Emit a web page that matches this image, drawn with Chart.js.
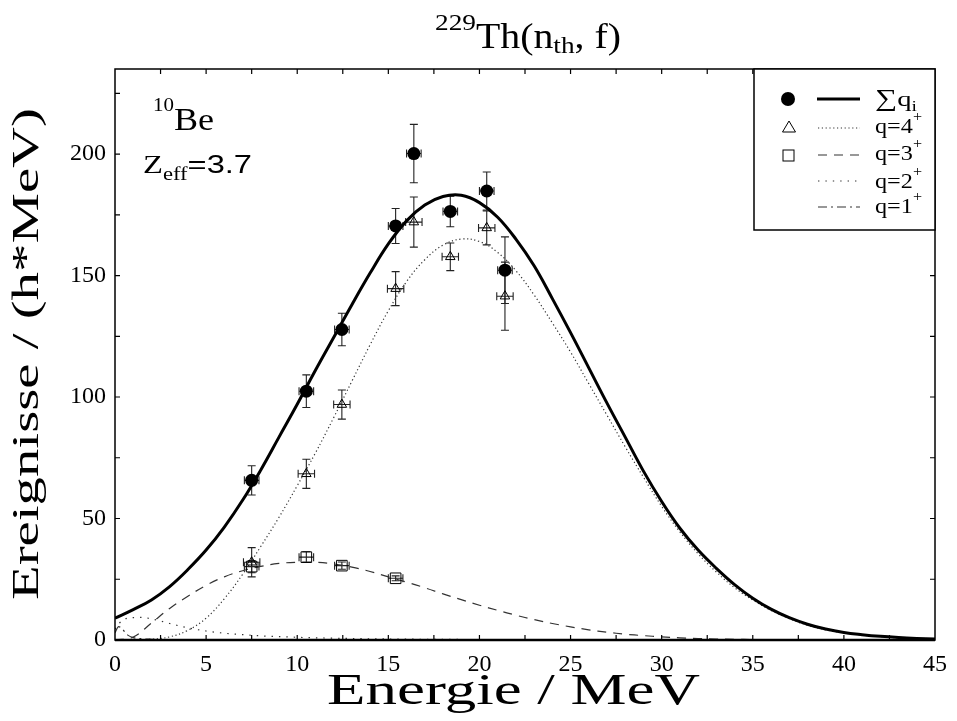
<!DOCTYPE html>
<html><head><meta charset="utf-8">
<script src="https://cdn.jsdelivr.net/npm/chart.js@4.4.1/dist/chart.umd.min.js"></script>
<style>
html,body{margin:0;padding:0;background:#fff;}
.pre{position:absolute;left:-9999px;top:0;}
.pre1{font-family:"Liberation Serif";}
.pre2{font-family:"Liberation Sans";}
</style>
</head><body>
<span class="pre pre1">Energie 0123456789 Th</span><span class="pre pre2">Z=3.7</span>
<canvas id="c" width="957" height="721"></canvas>
<script>
// ---- curve data ----
const energyGrid = [0,1,2,3,4,5,6,7,8,9,10,11,12,13,14,15,16,17,18,19,20,21,22,23,24,25,26,27,28,29,30,31,32,33,34,35,36,37,38,39,40,41,42,43,44,45];
const sumFit = [9,12.5,16.5,22,29,37,46.5,57.5,70,83.5,97,111,124.5,138,151,163,172.5,179,182.5,183,180,174,165,154,140.5,126.5,112,97.5,83.5,69.5,57,46,37,29.5,22.8,17.2,12.7,9.2,6.5,4.5,3.1,2.2,1.5,1,0.65,0.4];
const q4Fit = [0,0,0.3,1.3,4,9,17,27,38.5,50.5,63.5,77,91.5,106.5,121.5,135.5,147.5,156.5,162.5,165,164,159.5,152,142,130.5,118.5,105.5,92.5,79.5,67,55,44.5,35.5,28,21.5,16.5,12.2,8.8,6.1,4.2,2.9,2,1.4,0.9,0.6,0.4];
const q3Fit = [0,1.2,7,13,18,22.5,26,28.5,30.3,31.5,32,32,31.3,30,28.2,26,23.8,21.5,19,16.6,14.3,12.2,10.2,8.4,6.8,5.4,4.2,3.2,2.4,1.8,1.3,0.9,0.6,0.4,0.3,0.2,0.15,0.1,0.05,0,0,0,0,0,0,0];
const q2Energy = [0,0.25,0.5,1,1.5,2,2.5,3,4,5,6,7,8,9,10,12,14,16,18,20,25,30,35,45];
const q2Fit = [4.5,7,8.5,9.2,9.3,8.7,7.8,6.8,5,3.7,2.8,2.2,1.7,1.4,1.1,0.75,0.5,0.35,0.25,0.18,0.08,0.03,0.01,0];
const q1Energy = [0,0.2,0.4,0.7,1,1.5,2,3,4.5,8];
const q1Fit = [3,5.5,4.5,2,1,0.5,0.3,0.1,0,0];

// ---- measured points ----
const dataEnergy = [7.5,10.5,12.45,15.4,16.4,18.4,20.4,21.4];
const sumPts = [65.7,102.4,127.8,170.4,200.2,176.4,184.8,152.2];
const sumErr = [6,6.7,6.7,7.2,12,6.3,7.8,13.7];
const sumXErr = [0.4,0.4,0.4,0.4,0.4,0.4,0.4,0.4];
const q4Pts = [32,68.4,96.9,144.6,172,157.7,169.6,141.5];
const q4Err = [6,6,6,7,10.3,5.7,7,14];
const q4XErr = [0.45,0.45,0.45,0.45,0.45,0.45,0.45,0.45];
const q3Energy = [7.5,10.5,12.45,15.4];
const q3Pts = [30.2,34.1,30.6,25.4];
const q3Err = [2.5,2.2,1.5,1];
const q3XErr = [0.4,0.4,0.4,0.4];

const SERIF = '"Liberation Serif", "Times New Roman", Times, serif';
const SANS = '"Liberation Sans", Arial, Helvetica, sans-serif';
const DASH_Q4 = [1.2,2.6], DASH_Q3 = [9,7], DASH_Q2 = [1.4,6], DASH_Q1 = [9,4,2,4];

function pts(xs, ys){ return xs.map((x,i)=>({x:x, y:ys[i]})); }

const errorSets = [
  {E: dataEnergy, V: sumPts, dy: sumErr, dx: sumXErr},
  {E: dataEnergy, V: q4Pts, dy: q4Err, dx: q4XErr},
  {E: q3Energy, V: q3Pts, dy: q3Err, dx: q3XErr}
];

function drawRich(ctx, parts, x, y, o){
  o = o || {};
  ctx.save();
  let W = 0;
  parts.forEach(p=>{ ctx.font = p.size+'px '+(p.f||SERIF); p.w = ctx.measureText(p.t).width; W += p.w; });
  const s = o.width ? o.width / W : 1;
  ctx.translate(x, y);
  if (o.rotate) ctx.rotate(o.rotate);
  ctx.scale(s, 1);
  ctx.fillStyle = '#000';
  ctx.textBaseline = 'alphabetic';
  ctx.textAlign = 'left';
  let cx = 0;
  parts.forEach(p=>{ ctx.font = p.size+'px '+(p.f||SERIF); ctx.fillText(p.t, cx, p.dy||0); cx += p.w; });
  ctx.restore();
}

const decor = {
  id: 'decor',
  beforeDatasetsDraw(chart){
    const ctx = chart.ctx, xs = chart.scales.x, ys = chart.scales.y;
    ctx.save();
    ctx.strokeStyle = '#222'; ctx.lineWidth = 1.1;
    errorSets.forEach(set=>{
      set.E.forEach((e,i)=>{
        const px = xs.getPixelForValue(e), py = ys.getPixelForValue(set.V[i]);
        const y1 = ys.getPixelForValue(set.V[i]+set.dy[i]), y2 = ys.getPixelForValue(set.V[i]-set.dy[i]);
        const x1 = xs.getPixelForValue(e-set.dx[i]), x2 = xs.getPixelForValue(e+set.dx[i]);
        ctx.beginPath();
        ctx.moveTo(px,y1); ctx.lineTo(px,y2);
        ctx.moveTo(px-4,y1); ctx.lineTo(px+4,y1);
        ctx.moveTo(px-4,y2); ctx.lineTo(px+4,y2);
        ctx.moveTo(x1,py); ctx.lineTo(x2,py);
        ctx.moveTo(x1,py-4); ctx.lineTo(x1,py+4);
        ctx.moveTo(x2,py-4); ctx.lineTo(x2,py+4);
        ctx.stroke();
      });
    });
    ctx.restore();
  },
  afterDraw(chart){
    const ctx = chart.ctx, a = chart.chartArea, xs = chart.scales.x, ys = chart.scales.y;
    ctx.save();
    ctx.strokeStyle = '#000';
    ctx.lineWidth = 1.5;
    ctx.strokeRect(a.left, a.top, a.right-a.left, a.bottom-a.top);
    ctx.lineWidth = 2.5;
    ctx.beginPath(); ctx.moveTo(a.left, a.bottom); ctx.lineTo(a.right, a.bottom); ctx.stroke();
    ctx.lineWidth = 1.2;
    ctx.beginPath();
    for (let v = 2.5; v < 45; v += 2.5){
      const p = xs.getPixelForValue(v);
      ctx.moveTo(p, a.bottom); ctx.lineTo(p, a.bottom-5);
      ctx.moveTo(p, a.top); ctx.lineTo(p, a.top+5);
    }
    for (let v = 25; v < 235; v += 25){
      const p = ys.getPixelForValue(v);
      ctx.moveTo(a.left, p); ctx.lineTo(a.left+5, p);
      ctx.moveTo(a.right, p); ctx.lineTo(a.right-5, p);
    }
    ctx.stroke();
    const L = 754, T = a.top, R = a.right, B = 230;
    ctx.fillStyle = '#fff';
    ctx.fillRect(L, T, R-L, B-T);
    ctx.strokeStyle = '#000'; ctx.lineWidth = 1.5;
    ctx.strokeRect(L, T, R-L, B-T);
    ctx.fillStyle = '#000';
    ctx.beginPath(); ctx.arc(788, 99, 7, 0, Math.PI*2); ctx.fill();
    ctx.lineWidth = 3; ctx.setLineDash([]);
    ctx.beginPath(); ctx.moveTo(817, 99); ctx.lineTo(860, 99); ctx.stroke();
    ctx.lineWidth = 1;
    ctx.beginPath(); ctx.moveTo(789, 121); ctx.lineTo(795.5, 132); ctx.lineTo(782.5, 132); ctx.closePath(); ctx.stroke();
    ctx.strokeRect(783, 150, 11, 11);
    const rows = [[128, DASH_Q4],[155, DASH_Q3],[181, DASH_Q2],[207, DASH_Q1]];
    ctx.lineWidth = 1.1; ctx.strokeStyle = '#333';
    rows.forEach(r=>{ ctx.setLineDash(r[1]); ctx.beginPath(); ctx.moveTo(818, r[0]); ctx.lineTo(860, r[0]); ctx.stroke(); });
    ctx.setLineDash([]);
    ctx.restore();
    drawRich(ctx, [{t:'\u2211', size:24},{t:'q', size:22},{t:'i', size:15, dy:5}], 875, 106, {width:42});
    const lab = [['4',133],['3',160],['2',188],['1',213]];
    lab.forEach(l=> drawRich(ctx, [{t:'q='+l[0], size:21},{t:'+', size:14, dy:-12}], 875, l[1], {width:47}));
    drawRich(ctx, [{t:'229', size:24, dy:-18},{t:'Th(n', size:35},{t:'th', size:24, dy:5},{t:', f)', size:35}], 435, 48, {width:186});
    drawRich(ctx, [{t:'10', size:18, dy:-19},{t:'Be', size:31}], 153, 130, {width:61});
    drawRich(ctx, [{t:'Z', size:26},{t:'eff', size:18, dy:7},{t:'=3.7', size:26, f:SANS}], 143, 173, {width:109});
    drawRich(ctx, [{t:'Energie / MeV', size:45}], 327, 704, {width:373});
    drawRich(ctx, [{t:'Ereignisse / (h*MeV)', size:38}], 38, 600, {width:492, rotate:-Math.PI/2});
  }
};

function makeChart(){
  const tickFont = {family: SERIF, size: 24};
  new Chart(document.getElementById('c'), {
    type: 'scatter',
    data: {
      datasets: [
        {label:'\u2211q_i data', data: pts(dataEnergy, sumPts), pointStyle:'circle', pointRadius:6.5, backgroundColor:'#000', borderColor:'#000', borderWidth:0, showLine:false},
        {label:'q=4+ data', data: pts(dataEnergy, q4Pts), pointStyle:'triangle', pointRadius:5.5, backgroundColor:'rgba(0,0,0,0)', borderColor:'#000', borderWidth:1, showLine:false},
        {label:'q=3+ data', data: pts(q3Energy, q3Pts), pointStyle:'rect', pointRadius:7.5, backgroundColor:'rgba(0,0,0,0)', borderColor:'#000', borderWidth:1, showLine:false},
        {label:'\u2211q_i', data: pts(energyGrid, sumFit), showLine:true, pointRadius:0, borderColor:'#000', borderWidth:3, tension:0.4},
        {label:'q=4+', data: pts(energyGrid, q4Fit), showLine:true, pointRadius:0, borderColor:'#333', borderWidth:1.2, borderDash:DASH_Q4, tension:0.4},
        {label:'q=3+', data: pts(energyGrid, q3Fit), showLine:true, pointRadius:0, borderColor:'#333', borderWidth:1.2, borderDash:DASH_Q3, tension:0.4},
        {label:'q=2+', data: pts(q2Energy, q2Fit), showLine:true, pointRadius:0, borderColor:'#333', borderWidth:1.2, borderDash:DASH_Q2, cubicInterpolationMode:'monotone'},
        {label:'q=1+', data: pts(q1Energy, q1Fit), showLine:true, pointRadius:0, borderColor:'#333', borderWidth:1.2, borderDash:DASH_Q1, cubicInterpolationMode:'monotone'}
      ]
    },
    options: {
      responsive: false, animation: false, devicePixelRatio: 1,
      layout: {padding: {left: 0, right: 17, top: 69, bottom: 0}},
      plugins: {legend: {display:false}, tooltip: {enabled:false}, title: {display:false}},
      scales: {
        x: {type:'linear', min:0, max:45, afterFit: s => { s.height = 81; },
            grid:{display:false, drawTicks:false}, border:{display:false},
            ticks:{stepSize:5, padding:10, includeBounds:false, autoSkip:false, maxRotation:0, color:'#000', font:tickFont}},
        y: {type:'linear', min:0, max:235, afterFit: s => { s.width = 115; },
            grid:{display:false, drawTicks:false}, border:{display:false},
            ticks:{stepSize:50, padding:9, includeBounds:false, color:'#000', font:tickFont}}
      }
    },
    plugins: [decor]
  });
}

let made = false;
function go(){ if (!made){ made = true; makeChart(); } }
if (document.fonts && document.fonts.load){
  Promise.all([
    document.fonts.load('24px "Liberation Serif"'),
    document.fonts.load('24px "Liberation Sans"')
  ]).then(go, go);
  setTimeout(go, 1500);
} else { go(); }
</script>
</body></html>
